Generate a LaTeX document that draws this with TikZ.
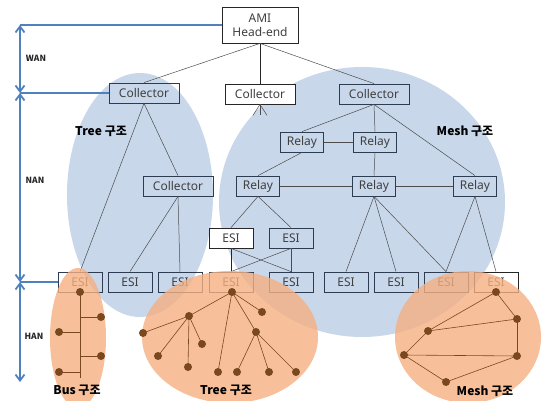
\documentclass[tikz,border=0pt]{standalone}
\usepackage{fontspec}
\setmainfont{Noto Sans}
\newfontfamily\kr{Noto Sans CJK KR}
\usetikzlibrary{arrows.meta}
\definecolor{bl}{RGB}{201,215,234}
\definecolor{orr}{RGB}{245,176,130}
\definecolor{arr}{RGB}{79,129,189}
\definecolor{brn}{RGB}{122,72,30}
\definecolor{bx}{RGB}{45,60,80}
\begin{document}
\begin{tikzpicture}[x=1pt,y=-1pt,
  box/.style={draw=bx, line width=0.8pt, minimum height=20pt, inner sep=0pt,
    font=\fontsize{12}{14}\selectfont, text=black!75},
  coll/.style={box, minimum width=70pt},
  relay/.style={box, minimum width=43pt},
  esi/.style={box, minimum width=44pt},
  conn/.style={draw=black!70, line width=0.5pt},
  thk/.style={draw=black!85, line width=1pt},
  dot/.style={circle, fill=brn, inner sep=0pt, minimum size=8pt},
  br/.style={draw=brn, line width=0.6pt},
  lab/.style={font=\kr\bfseries\fontsize{12}{14}\selectfont, text=black},
  side/.style={font=\kr\bfseries\fontsize{8.5}{10}\selectfont, text=black!85},
  hl/.style={draw=arr, line width=1.4pt},
  axis/.style={draw=arr, line width=1.8pt,
    {Straight Barb[length=6pt,width=9pt]}-{Straight Barb[length=6pt,width=9pt]}}]
\clip (0,0) rectangle (543,401);
% blue regions
\fill[bl] (140,195) ellipse [x radius=73pt, y radius=122pt];
\fill[bl] (362,202) ellipse [x radius=143pt, y radius=135pt];
% boxes
\node[box, minimum width=76pt, minimum height=36pt, fill=white, draw=black!85, align=center,
  font=\fontsize{12}{14}\selectfont] (ami) at (260,25) {AMI\\Head-end};
\node[coll] (c1) at (144,93) {Collector};
\node[coll, fill=white, draw=black!85] (c2) at (260,94) {Collector};
\node[coll] (c3) at (374,94) {Collector};
\node[coll] (c4) at (178,186) {Collector};
\node[relay] (ra) at (302,142) {Relay};
\node[relay] (rb) at (375,142) {Relay};
\node[relay] (rc) at (258,186) {Relay};
\node[relay] (rd) at (374,186) {Relay};
\node[relay] (re) at (475,186) {Relay};
\node[esi, fill=white, draw=black!85] (eul) at (231,238) {ESI};
\node[esi] (eur) at (291,238) {ESI};
\node[esi] (e1) at (80,282) {ESI};
\node[esi] (e2) at (130,282) {ESI};
\node[esi] (e3) at (180,282) {ESI};
\node[esi] (e4) at (231,282) {ESI};
\node[esi] (e5) at (291,282) {ESI};
\node[esi] (e6) at (346,282) {ESI};
\node[esi] (e7) at (396,282) {ESI};
\node[esi] (e8) at (446,282) {ESI};
\node[esi, draw=black!85] (e9) at (496,282) {ESI};
% connectors
\draw[conn] (ami.south) -- (c1.north);
\draw[thk] (ami.south) -- (c2.north);
\draw[conn] (ami.south) -- (c3.north);
\draw[conn] (c2.south) -- ++(-7,11);
\draw[conn] (c2.south) -- ++(0,11);
\draw[conn] (c2.south) -- ++(7,11);
\draw[conn] (c1.south) -- (c4.north);
\draw[conn] (c1.south) -- (e1.north);
\draw[conn] (c4.south) -- (e2.north);
\draw[conn] (c4.south) -- (e3.north);
\draw[conn] (c3.south) -- (ra.north);
\draw[conn] (c3.south) -- (rb.north);
\draw[conn] (c3.south) -- (re.north);
\draw[conn] (ra) -- (rb);
\draw[conn] (ra.south) -- (rc.north);
\draw[conn] (rb.south) -- (rd.north);
\draw[conn] (rc) -- (rd);
\draw[conn] (rd) -- (re);
\draw[conn] (rc.south) -- (eul.north);
\draw[conn] (rc.south) -- (eur.north);
\draw[thk] (eul.south) -- (e4.north);
\draw[conn] (eul.south) -- (e5.north);
\draw[conn] (eur.south) -- (e4.north);
\draw[conn] (eur.south) -- (e5.north);
\draw[conn] (rd.south) -- (e6.north);
\draw[conn] (rd.south) -- (e7.north);
\draw[conn] (rd.south) -- (e8.north);
\draw[conn] (re.south) -- (e8.north);
\draw[conn] (re.south) -- (e9.north);
% orange regions
\fill[orr, opacity=0.8] (78,338) ellipse [x radius=28pt, y radius=70pt];
\fill[orr, opacity=0.8] (230,337) ellipse [x radius=88pt, y radius=66pt];
\fill[orr, opacity=0.8] (468,337) ellipse [x radius=73pt, y radius=66pt];
% bus
\node[dot] (b0) at (80,292) {};
\coordinate (bend) at (80,378);
\coordinate (bj1) at (80,317);
\coordinate (bj2) at (80,332);
\coordinate (bj3) at (80,356);
\coordinate (bj4) at (80,372);
\node[dot] (b1) at (101,317) {};
\node[dot] (b2) at (59,332) {};
\node[dot] (b3) at (101,356) {};
\node[dot] (b4) at (59,372) {};
\draw[br] (b0.center) -- (bend);
\draw[br] (bj1) -- (b1.center);
\draw[br] (bj2) -- (b2.center);
\draw[br] (bj3) -- (b3.center);
\draw[br] (bj4) -- (b4.center);
% tree
\node[dot] (t0) at (232,292) {};
\node[dot] (ta) at (189,316) {};
\node[dot] (tb) at (262,312) {};
\node[dot] (tc) at (256,332) {};
\node[dot] (td) at (218,372) {};
\node[dot] (ta1) at (143,333) {};
\node[dot] (ta2) at (158,356) {};
\node[dot] (ta3) at (188,367) {};
\node[dot] (ta4) at (202,344) {};
\node[dot] (tc1) at (237,372) {};
\node[dot] (tc2) at (269,372) {};
\node[dot] (tc3) at (296,372) {};
\foreach \a/\b in {t0/ta,t0/tb,t0/tc,t0/td,ta/ta1,ta/ta2,ta/ta3,ta/ta4,tc/tc1,tc/tc2,tc/tc3}
  \draw[br] (\a.center) -- (\b.center);
% mesh
\node[dot] (m1) at (496,292) {};
\node[dot] (m2) at (517,319) {};
\node[dot] (m3) at (428,331) {};
\node[dot] (m4) at (404,355) {};
\node[dot] (m5) at (517,356) {};
\node[dot] (m6) at (446,382) {};
\foreach \a/\b in {m1/m2,m1/m3,m3/m2,m3/m4,m2/m5,m4/m5,m4/m6,m6/m5}
  \draw[br] (\a.center) -- (\b.center);
% layer arrows
\coordinate (w0) at (20,25);
\coordinate (w1) at (20,93);
\coordinate (h0) at (20,282);
\coordinate (h1) at (20,382);
\draw[hl] (w0) -- (ami.west);
\draw[hl] (w1) -- (c1.west);
\draw[hl] (h0) -- (e1.west);
\draw[axis] (w0) -- (w1);
\draw[axis] (w1) -- (h0);
\draw[axis] (h0) -- (h1);
\node[side] (lw) at (36,58) {WAN};
\node[side] (ln) at (35,180) {NAN};
\node[side] (lh) at (34,336) {HAN};
% labels
\node[lab] (l1) at (101,131) {Tree 구조};
\node[lab] (l2) at (465,131) {Mesh 구조};
\node[lab] (l3) at (77,390) {Bus 구조};
\node[lab] (l4) at (226,390) {Tree 구조};
\node[lab] (l5) at (485,391) {Mesh 구조};
\end{tikzpicture}
\end{document}
